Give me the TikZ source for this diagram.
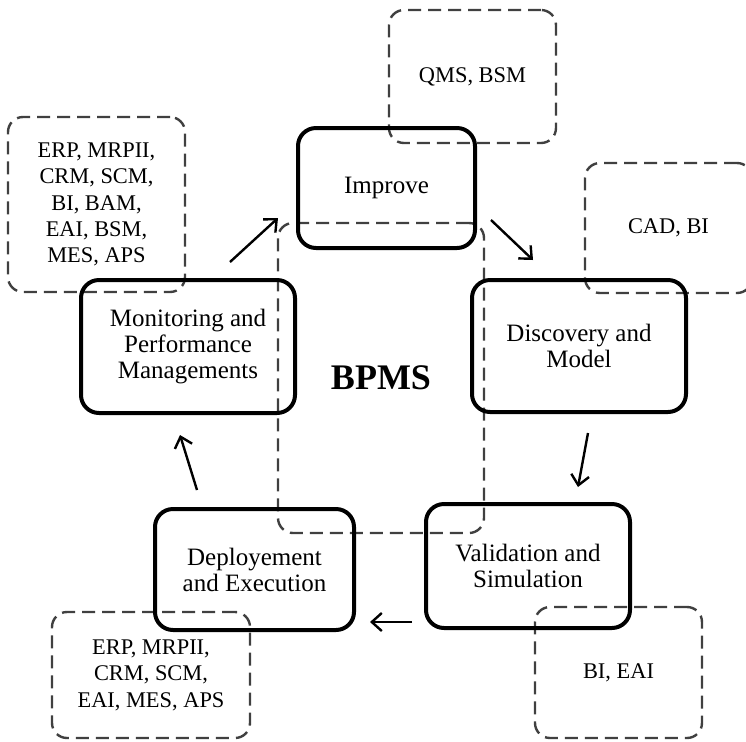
\documentclass[tikz,border=0pt]{standalone}
\usepackage{fontspec}
\setmainfont{Liberation Serif}
\usepackage{tikz}
\usetikzlibrary{positioning,arrows.meta}
\tikzset{>={Straight Barb[length=5pt,width=9pt]}}
\tikzset{
  stage/.style={draw=black, line width=2pt, rounded corners=9pt, align=center,
    font=\fontsize{12.5}{13}\selectfont},
  tool/.style={draw=black!75, line width=1.2pt, dash pattern=on 6.5pt off 3.5pt,
    rounded corners=7.5pt, align=center, font=\fontsize{11.2}{13.2}\selectfont},
  flow/.style={->, line width=1.2pt}
}

\begin{document}
\begin{tikzpicture}[x=0.5pt,y=-0.5pt]
			\useasboundingbox (0,0) rectangle (746,741);
			\clip (0,0) rectangle (746,741);
			% tool boxes
			\node[tool, minimum width=103pt, minimum height=155pt, font=\fontsize{18}{20}\selectfont\bfseries] (bpms) at (381,378) {BPMS};
			\node[tool, minimum width=83.5pt, minimum height=66.5pt] (qms) at (472.5,76.5) {QMS, BSM};
			\node[tool, minimum width=83.5pt, minimum height=65pt] (cad) at (668.5,228) {CAD, BI};
			\node[tool, minimum width=83.5pt, minimum height=65.5pt] (bieai) at (618.5,672.5) {BI, EAI};
			\node[tool, minimum width=99pt, minimum height=63pt] (erpdep) at (151,675) {ERP, MRPII,\\CRM, SCM,\\EAI, MES, APS};
			\node[tool, minimum width=88.5pt, minimum height=87.5pt] (erpmon) at (96.5,204.5) {ERP, MRPII,\\CRM, SCM,\\BI, BAM,\\EAI, BSM,\\MES, APS};
			% stages
			\node[stage, minimum width=88.5pt, minimum height=60pt] (improve) at (386.5,188) {Improve};
			\node[stage, minimum width=107pt, minimum height=66pt] (discovery) at (579,346) {Discovery and\\Model};
			\node[stage, minimum width=102pt, minimum height=62pt] (validation) at (528,566) {Validation and\\Simulation};
			\node[stage, minimum width=99.5pt, minimum height=60.5pt] (deploy) at (254.5,569.5) {Deployement\\and Execution};
			\node[stage, minimum width=107pt, minimum height=66.5pt] (monitor) at (188,346.5) {Monitoring and\\Performance\\Managements};
			% arrows
			\coordinate (m2i) at (230,262);
			\coordinate (i2m) at (278,218);
			\coordinate (i2d) at (491,220);
			\coordinate (d2i) at (533,260);
			\coordinate (d2v) at (588,433);
			\coordinate (v2d) at (578,487);
			\coordinate (v2p) at (412,622);
			\coordinate (p2v) at (370,622);
			\coordinate (p2m) at (197,490);
			\coordinate (m2p) at (180,435);
			\draw[flow] (m2i) -- (i2m);
			\draw[flow] (i2d) -- (d2i);
			\draw[flow] (d2v) -- (v2d);
			\draw[flow] (v2p) -- (p2v);
			\draw[flow] (p2m) -- (m2p);
	\end{tikzpicture}
\end{document}
